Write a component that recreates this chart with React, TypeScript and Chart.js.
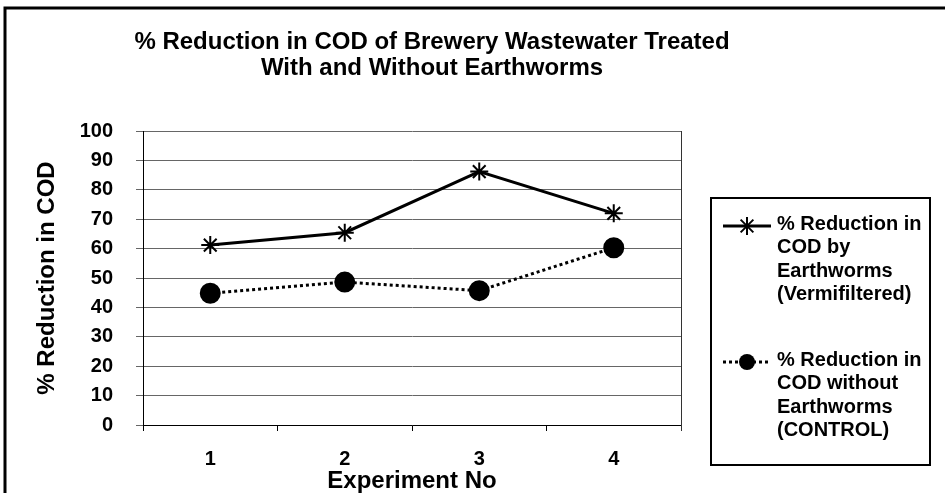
import React, { useEffect, useRef } from 'react';
import { Chart, registerables } from 'chart.js';

Chart.register(...registerables);

// ---- data ----
const experiments = ['1', '2', '3', '4'];
const vermiValues = [61.2, 65.4, 86.2, 72.0];
const controlValues = [44.8, 48.6, 45.7, 60.3];
const yMin = 0;
const yMax = 100;
const yStep = 10;

// ---- text ----
const titleLines = [
  '% Reduction in COD of Brewery Wastewater Treated',
  'With and Without Earthworms',
];
const yAxisTitle = '% Reduction in COD';
const xAxisTitle = 'Experiment No';
const vermiLegendLines = ['% Reduction in', 'COD by', 'Earthworms', '(Vermifiltered)'];
const controlLegendLines = ['% Reduction in', 'COD without', 'Earthworms', '(CONTROL)'];

const FONT = '"Liberation Sans", Arial, Helvetica, sans-serif';

function drawStar(ctx: CanvasRenderingContext2D, x: number, y: number, r: number) {
  ctx.beginPath();
  ctx.moveTo(x, y - r);
  ctx.lineTo(x, y + r);
  ctx.moveTo(x - r, y);
  ctx.lineTo(x + r, y);
  const d = r * Math.SQRT1_2;
  ctx.moveTo(x - d, y - d);
  ctx.lineTo(x + d, y + d);
  ctx.moveTo(x - d, y + d);
  ctx.lineTo(x + d, y - d);
  ctx.stroke();
}

const decorPlugin = {
  id: 'decor',
  afterDraw(chart: any) {
    const { ctx, chartArea } = chart;
    ctx.save();
    // outer frame (left and top edges visible)
    ctx.strokeStyle = '#000';
    ctx.lineWidth = 3;
    ctx.setLineDash([]);
    ctx.beginPath();
    ctx.moveTo(5, 1000);
    ctx.lineTo(5, 8);
    ctx.lineTo(1000, 8);
    ctx.stroke();

    // plot area right edge
    ctx.lineWidth = 1;
    ctx.strokeStyle = '#333';
    ctx.beginPath();
    ctx.moveTo(Math.round(chartArea.right) + 0.5, chartArea.top);
    ctx.lineTo(Math.round(chartArea.right) + 0.5, chartArea.bottom + 6);
    ctx.stroke();

    // title
    ctx.fillStyle = '#000';
    ctx.font = `bold 24px ${FONT}`;
    ctx.textAlign = 'center';
    ctx.textBaseline = 'middle';
    titleLines.forEach((t, i) => ctx.fillText(t, 432, 42 + i * 26));

    // legend
    ctx.strokeStyle = '#000';
    ctx.lineWidth = 2;
    ctx.strokeRect(711, 198, 219, 267);

    const entries = [
      { lines: vermiLegendLines, y: 224, ds: chart.data.datasets[0] },
      { lines: controlLegendLines, y: 360, ds: chart.data.datasets[1] },
    ];
    ctx.font = `bold 20px ${FONT}`;
    ctx.textAlign = 'left';
    entries.forEach((e, idx) => {
      const ly = e.y + 2;
      ctx.strokeStyle = '#000';
      ctx.lineWidth = e.ds.borderWidth;
      ctx.setLineDash(e.ds.borderDash || []);
      ctx.beginPath();
      ctx.moveTo(723, ly);
      ctx.lineTo(771, ly);
      ctx.stroke();
      ctx.setLineDash([]);
      if (idx === 0) {
        ctx.lineWidth = 2;
        drawStar(ctx, 747, ly, 9);
      } else {
        ctx.fillStyle = '#000';
        ctx.beginPath();
        ctx.arc(747, ly, 8, 0, Math.PI * 2);
        ctx.fill();
      }
      ctx.fillStyle = '#000';
      e.lines.forEach((t, i) => ctx.fillText(t, 777, e.y + i * 23.5));
    });
    ctx.restore();
  },
};

export default function App() {
  const canvasRef = useRef<HTMLCanvasElement | null>(null);

  useEffect(() => {
    document.body.style.margin = '0';
    const canvas = canvasRef.current;
    if (!canvas) return;
    const chart = new Chart(canvas, {
      type: 'line',
      data: {
        labels: experiments,
        datasets: [
          {
            label: vermiLegendLines.join(' '),
            data: vermiValues,
            borderColor: '#000',
            backgroundColor: '#000',
            borderWidth: 3,
            pointStyle: 'star',
            pointRadius: 9,
            pointBorderWidth: 2,
            pointBorderColor: '#000',
            tension: 0,
          },
          {
            label: controlLegendLines.join(' '),
            data: controlValues,
            borderColor: '#000',
            backgroundColor: '#000',
            borderWidth: 3,
            borderDash: [3, 3],
            pointStyle: 'circle',
            pointRadius: 9,
            pointBackgroundColor: '#000',
            pointBorderColor: '#000',
            tension: 0,
          },
        ],
      },
      options: {
        responsive: false,
        animation: false,
        events: [],
        layout: { padding: { top: 131, right: 264, left: 0, bottom: 0 } },
        plugins: {
          legend: { display: false },
          title: { display: false },
          tooltip: { enabled: false },
        },
        scales: {
          x: {
            type: 'category',
            offset: true,
            grid: {
              display: true,
              drawOnChartArea: false,
              drawTicks: true,
              tickLength: 6,
              offset: true,
              color: '#000',
            },
            border: { display: true, color: '#000', width: 1 },
            ticks: {
              color: '#000',
              padding: 16,
              font: { family: FONT, size: 20, weight: 'bold' },
            },
            title: {
              display: true,
              text: xAxisTitle,
              color: '#000',
              font: { family: FONT, size: 24, weight: 'bold', lineHeight: 1 },
              padding: { top: 0, bottom: 0 },
            },
            afterFit: (scale: any) => {
              scale.height = 68;
            },
          },
          y: {
            min: yMin,
            max: yMax,
            grid: {
              color: '#666',
              lineWidth: 1,
              drawTicks: true,
              tickLength: 7,
            },
            border: { display: true, color: '#000', width: 1 },
            ticks: {
              stepSize: yStep,
              color: '#000',
              padding: 23,
              font: { family: FONT, size: 20, weight: 'bold' },
            },
            title: {
              display: true,
              text: yAxisTitle,
              color: '#000',
              font: { family: FONT, size: 24, weight: 'bold', lineHeight: 1 },
              padding: { top: 35, bottom: 0 },
            },
            afterFit: (scale: any) => {
              scale.width = 143;
            },
          },
        },
      },
      plugins: [decorPlugin],
    } as any);
    return () => chart.destroy();
  }, []);

  return (
    <canvas
      ref={canvasRef}
      width={945}
      height={493}
      style={{ display: 'block', width: 945, height: 493 }}
    />
  );
}
